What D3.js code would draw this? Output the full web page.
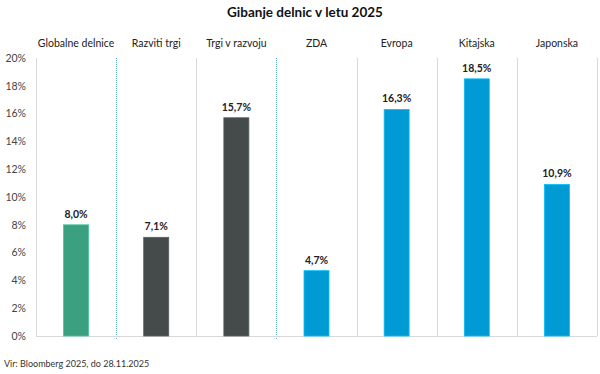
<!DOCTYPE html>
<html>
<head>
<meta charset="utf-8">
<script src="https://cdn.jsdelivr.net/npm/d3@7"></script>
<style>
  body { margin: 0; background: #fff; }
  text { font-family: Lato, "Open Sans", sans-serif; }
</style>
</head>
<body>
<div id="chart"></div>
<script>
// data
const categories = ["Globalne delnice", "Razviti trgi", "Trgi v razvoju", "ZDA", "Evropa", "Kitajska", "Japonska"];
const values = [8.0, 7.1, 15.7, 4.7, 16.3, 18.5, 10.9];
const barColors = ["#3ba07f", "#454b4b", "#454b4b", "#009bd4", "#009bd4", "#009bd4", "#009bd4"];
const tickValues = [0, 2, 4, 6, 8, 10, 12, 14, 16, 18, 20];
// separators after these indices are blue dotted
const dottedAfter = [0, 2];

const W = 600, H = 374;
const margin = {top: 58, right: 3, bottom: 38, left: 36},
      width = W - margin.left - margin.right,
      height = H - margin.top - margin.bottom;

const svg = d3.select("#chart")
    .append("svg")
    .attr("width", W)
    .attr("height", H);

const g = svg.append("g")
    .attr("transform", `translate(${margin.left}, ${margin.top})`);

const x = d3.scaleBand()
    .domain(categories)
    .range([0, width])
    .paddingInner(0)
    .paddingOuter(0);

const y = d3.scaleLinear()
    .domain([0, 20])
    .range([height, 0]);

// title
svg.append("text")
    .attr("x", 305)
    .attr("y", 17)
    .attr("text-anchor", "middle")
    .style("font-size", "13.5px")
    .style("font-weight", "bold")
    .style("fill", "#111")
    .text("Gibanje delnic v letu 2025");

// vertical separators
categories.forEach(function(c, i) {
  const xp = Math.round(x(c) + x.bandwidth()) + 0.5;
  const dotted = dottedAfter.includes(i);
  g.append("line")
    .attr("x1", xp).attr("x2", xp)
    .attr("y1", 0)
    .attr("y2", dotted ? height + 3 : height)
    .attr("stroke", dotted ? "#5aa9d6" : "#d9d9d9")
    .attr("stroke-width", 1)
    .attr("stroke-dasharray", dotted ? "1,1" : null);
});

// y axis
const yAxis = d3.axisLeft(y)
    .tickValues(tickValues)
    .tickSize(0)
    .tickPadding(10)
    .tickFormat(d => d + "%");

g.append("g")
    .call(yAxis)
    .call(a => a.select(".domain").attr("stroke", "#d9d9d9").attr("d", `M0.5,0V${height}`))
    .selectAll("text")
    .style("font-size", "10.5px")
    .style("fill", "#444")
    .style("font-family", "Lato, sans-serif");

// baseline
g.append("line")
    .attr("x1", 0).attr("x2", width)
    .attr("y1", height + 0.5).attr("y2", height + 0.5)
    .attr("stroke", "#d9d9d9");

// category labels at top
const xAxis = d3.axisTop(x).tickSize(0).tickPadding(0);
g.append("g")
    .attr("transform", "translate(0,-11)")
    .call(xAxis)
    .call(a => a.select(".domain").remove())
    .selectAll("text")
    .style("font-size", "10.5px")
    .style("fill", "#222")
    .style("font-family", "Lato, sans-serif");

// bars
const barW = 25;
g.selectAll("rect.bar")
    .data(values)
    .join("rect")
    .attr("class", "bar")
    .attr("x", (d, i) => x(categories[i]) + x.bandwidth() / 2 - barW / 2)
    .attr("y", d => y(d))
    .attr("width", barW)
    .attr("height", d => height - y(d))
    .attr("fill", (d, i) => barColors[i])
    .attr("stroke", (d, i) => d3.color(barColors[i]).brighter(0.6))
    .attr("stroke-width", 0.8);

// value labels
g.selectAll("text.val")
    .data(values)
    .join("text")
    .attr("class", "val")
    .attr("x", (d, i) => x(categories[i]) + x.bandwidth() / 2)
    .attr("y", d => y(d) - 7)
    .attr("text-anchor", "middle")
    .style("font-size", "10.5px")
    .style("font-weight", "bold")
    .style("fill", "#222")
    .text(d => d.toFixed(1).replace(".", ",") + "%");

// source
svg.append("text")
    .attr("x", 4)
    .attr("y", 367)
    .style("font-size", "9px")
    .style("fill", "#333")
    .text("Vir: Bloomberg 2025, do 28.11.2025");
</script>
</body>
</html>
